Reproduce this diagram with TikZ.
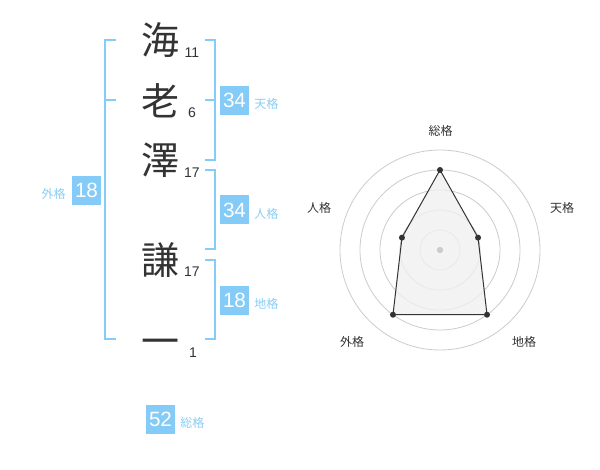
\documentclass[tikz,border=0pt]{standalone}
\usepackage{fontspec}
\setmainfont{Liberation Sans}
\newfontfamily\jp{Noto Sans CJK JP}
\begin{document}
\begin{tikzpicture}[x=0.75pt,y=-0.75pt,
  kanji/.style={font=\jp\fontsize{28.5pt}{28.5pt}\selectfont, text=txt, inner sep=0pt},
  strk/.style={font=\fontsize{10.5pt}{10.5pt}\selectfont, text=txt, inner sep=0pt},
  valbox/.style={fill=boxblue, text=white, minimum width=21.75pt, minimum height=21.75pt, inner sep=0pt, font=\fontsize{15.5pt}{15.5pt}\selectfont},
  lbl/.style={font=\jp\fontsize{9pt}{9pt}\selectfont, text=lblblue, inner sep=0pt},
  brk/.style={draw=lineblue, line width=1.5pt},
  ring/.style={draw=ringgray, line width=0.6pt},
  rlbl/.style={font=\jp\fontsize{9pt}{9pt}\selectfont, text=txt, inner sep=0pt},
  dot/.style={circle, fill=txt, inner sep=0pt, minimum size=4.5pt}]
\definecolor{txt}{HTML}{333333}
\definecolor{boxblue}{HTML}{84CBF8}
\definecolor{lblblue}{HTML}{88CEF5}
\definecolor{lineblue}{HTML}{86CCF8}
\definecolor{ringgray}{HTML}{CCCCCC}
\definecolor{polyfill}{HTML}{F0F0F0}
\useasboundingbox[fill=white] (0,0) rectangle (600,470);

% name characters
\node[kanji] (k1) at (160,40) {海};
\node[kanji] (k2) at (160,101) {老};
\node[kanji] (k3) at (160,160) {澤};
\node[kanji] (k4) at (160,260) {謙};
\node[kanji] (k5) at (160,347) {一};
\node[strk] (s1) at (192,53) {11};
\node[strk] (s2) at (192,113) {6};
\node[strk] (s3) at (192,173) {17};
\node[strk] (s4) at (192,272) {17};
\node[strk] (s5) at (193,353) {1};

% brackets
\draw[brk] (116,40) -- (105,40) -- (105,339.5) -- (116,339.5);
\draw[brk] (105,100) -- (116,100);
\draw[brk] (205,40) -- (215,40) -- (215,160) -- (205,160);
\draw[brk] (205,100) -- (215,100);
\draw[brk] (205,170) -- (215,170) -- (215,249.5) -- (205,249.5);
\draw[brk] (205,260) -- (215,260) -- (215,339.5) -- (205,339.5);

% value boxes
\node[valbox] (ten) at (234.5,100.5) {34};
\node[lbl, anchor=west] (tenl) at (254,104) {天格};
\node[valbox] (jin) at (234.5,210) {34};
\node[lbl, anchor=west] (jinl) at (254,214) {人格};
\node[valbox] (chi) at (234.5,300.5) {18};
\node[lbl, anchor=west] (chil) at (254,304) {地格};
\node[valbox] (gai) at (86.5,190.5) {18};
\node[lbl, anchor=east] (gail) at (66,194) {外格};
\node[valbox] (sou) at (160.5,419.5) {52};
\node[lbl, anchor=west] (soul) at (180,423) {総格};

% radar chart
\coordinate (c) at (440,250);
\foreach \r in {20,40,60,80,100} \draw[ring] (c) circle[radius=\r];
\coordinate (p1) at (440,170);
\coordinate (p2) at (478.04,237.64);
\coordinate (p3) at (487.02,314.72);
\coordinate (p4) at (392.98,314.72);
\coordinate (p5) at (401.96,237.64);
\draw[fill=polyfill, fill opacity=0.8, draw=txt, line width=0.75pt] (p1) -- (p2) -- (p3) -- (p4) -- (p5) -- cycle;
\fill[ringgray] (c) circle[radius=3.2];
\foreach \p in {p1,p2,p3,p4,p5} \node[dot] at (\p) {};
\node[rlbl] (r1) at (440.5,131) {総格};
\node[rlbl] (r2) at (562,208) {天格};
\node[rlbl] (r3) at (524,342) {地格};
\node[rlbl] (r4) at (352,342) {外格};
\node[rlbl] (r5) at (319,208) {人格};
\end{tikzpicture}
\end{document}
